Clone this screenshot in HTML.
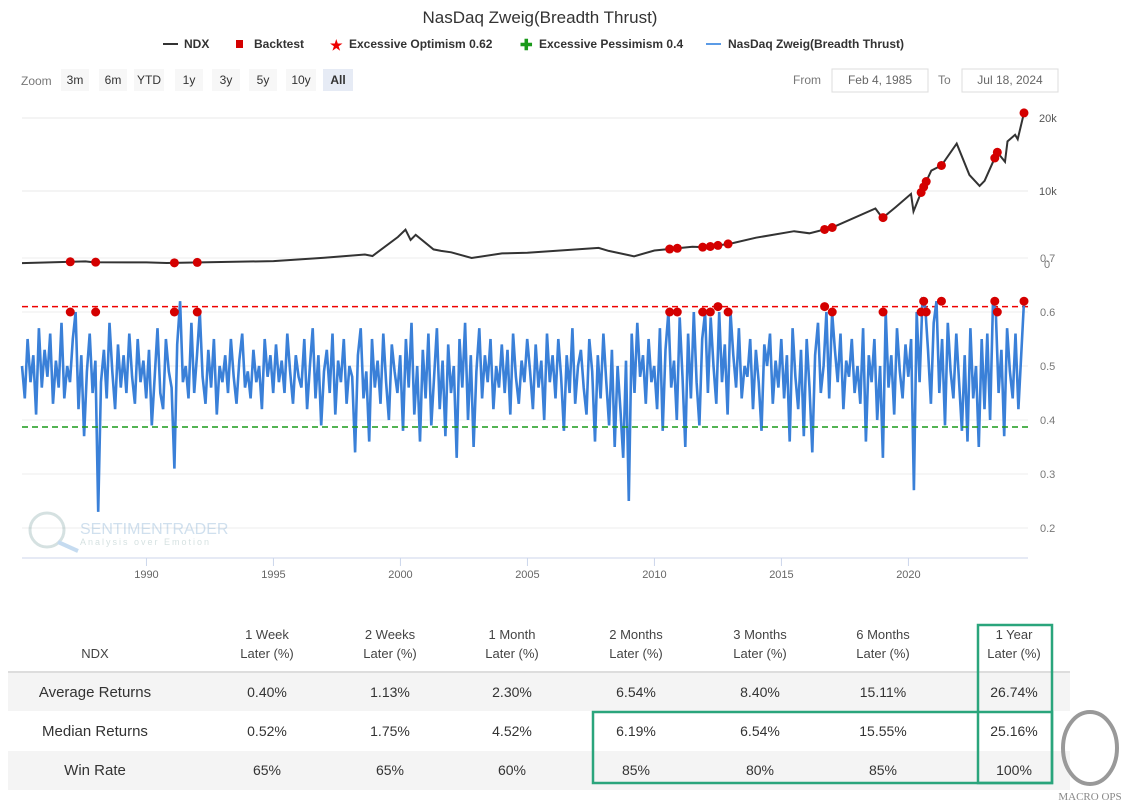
<!DOCTYPE html>
<html><head><meta charset="utf-8">
<style>
body{margin:0;background:#fff;font-family:"Liberation Sans",sans-serif;}
svg{display:block}
</style></head>
<body>
<svg id="c" width="1129" height="810" xmlns="http://www.w3.org/2000/svg">
<text x="540" y="23" text-anchor="middle" font-size="17" fill="#333">NasDaq Zweig(Breadth Thrust)</text>
<g font-size="12" font-weight="bold" fill="#333">
 <g><line x1="163" y1="44" x2="178" y2="44" stroke="#333" stroke-width="2"/><text x="184" y="48">NDX</text></g>
 <g><rect x="236" y="40" width="7" height="8" fill="#d40000"/><text x="254" y="48">Backtest</text></g>
 <g><text x="330" y="50" fill="#e00" font-size="14">★</text><text x="349" y="48">Excessive Optimism 0.62</text></g>
 <g><text x="520" y="50" fill="#1a9a1a" font-size="15">✚</text><text x="539" y="48">Excessive Pessimism 0.4</text></g>
 <g><line x1="706" y1="44" x2="721" y2="44" stroke="#5b9be6" stroke-width="2"/><text x="728" y="48">NasDaq Zweig(Breadth Thrust)</text></g>
</g>
<g font-size="12" fill="#666">
 <text x="21" y="85" fill="#777">Zoom</text>
</g>
<g id="zb"></g>
<g font-size="12" fill="#777">
 <text x="793" y="84">From</text>
 <rect x="832" y="69" width="96" height="23" fill="#fff" stroke="#ddd"/>
 <text x="880" y="84" text-anchor="middle" fill="#666">Feb 4, 1985</text>
 <text x="938" y="84">To</text>
 <rect x="962" y="69" width="96" height="23" fill="#fff" stroke="#ddd"/>
 <text x="1010" y="84" text-anchor="middle" fill="#666">Jul 18, 2024</text>
</g>
<g id="plot"></g>
<g opacity="0.35">
 <circle cx="47" cy="530" r="17" fill="none" stroke="#8aa" stroke-width="3"/>
 <line x1="58" y1="542" x2="78" y2="551" stroke="#5b9bd5" stroke-width="4"/>
 <text x="80" y="534" font-size="16" fill="#7aa7d0">SENTIMENTRADER</text>
 <text x="80" y="545" font-size="9" fill="#8aa" letter-spacing="2">Analysis over Emotion</text>
</g>
<g id="table"></g>
<g>
 <ellipse cx="1090" cy="748" rx="27" ry="36" fill="none" stroke="#999" stroke-width="4"/>
 <text x="1090" y="800" text-anchor="middle" font-family="Liberation Serif,serif" font-size="11" fill="#888">MACRO OPS</text>
</g>
</svg>
<script>
// ---- data ----
const ndxYears=[1985.1,1987.6,1987.9,1990.0,1990.8,1995.0,1997.0,1998.6,1998.9,1999.9,2000.2,2000.4,2000.6,2001.3,2001.6,2002.0,2002.8,2004.0,2005.0,2007.8,2008.2,2009.2,2010.0,2011.5,2012.0,2013.0,2014.0,2015.5,2016.1,2017.0,2018.7,2018.98,2019.5,2020.1,2020.2,2020.5,2020.9,2021.3,2021.9,2022.4,2022.8,2023.0,2023.5,2023.8,2023.9,2024.2,2024.3,2024.55];
const ndxValues=[125,360,250,220,140,400,850,1300,1100,3700,4700,3300,4000,2000,1800,1600,820,1450,1550,2200,1800,1050,1850,2350,2300,2800,3600,4500,4200,5000,7600,6300,7800,9600,7200,9800,12800,13500,16500,12200,10700,11400,15300,14000,16800,17700,17100,20700];
const zweig=[50,44,55,47,52,41,57,46,53,48,56,43,51,46,58,44,50,47,55,60,42,52,37,49,56,45,51,23,47,53,44,58,49,42,54,46,52,45,56,48,43,55,47,51,44,53,39,48,57,45,42,55,49,46,31,54,62,47,50,44,58,45,52,60,48,43,53,46,55,41,50,47,52,45,55,48,43,51,56,46,49,44,53,47,50,42,55,48,52,45,54,47,51,45,56,49,43,52,48,46,55,42,50,57,44,52,39,49,53,45,56,41,51,47,55,43,50,48,34,52,57,44,49,36,55,46,51,43,56,47,40,54,49,45,52,38,55,46,58,41,50,36,53,44,56,39,48,57,42,51,37,54,45,50,33,55,46,58,40,52,35,49,57,44,52,47,55,42,50,46,54,45,53,41,56,48,43,51,47,55,49,42,54,46,51,40,56,47,52,44,55,48,38,52,45,57,43,50,53,46,41,55,49,36,52,44,56,47,39,53,35,50,42,33,51,25,56,45,58,48,52,43,55,47,50,42,57,38,53,60,46,51,40,59,48,35,56,44,60,47,39,55,60,45,59,50,43,60,47,54,41,60,52,46,57,44,50,48,55,42,53,47,38,54,50,56,43,51,46,55,44,52,36,57,48,42,53,37,55,46,34,52,58,45,50,60,44,60,53,47,56,42,51,48,55,45,50,43,57,36,52,47,55,40,50,33,60,46,52,41,57,49,44,54,48,55,27,60,47,62,61,53,43,58,62,45,55,39,58,49,44,56,47,38,52,36,57,44,50,35,55,42,56,40,62,60,45,53,37,57,49,44,56,42,52,62];
const backtestYears=[1987.0,1988.0,1991.1,1992.0,2010.6,2010.9,2011.9,2012.2,2012.5,2012.9,2016.7,2017.0,2019.0,2020.5,2020.6,2020.7,2021.3,2023.4,2023.5,2024.55];
const backtestZweig=[0.60,0.60,0.60,0.60,0.60,0.60,0.60,0.60,0.61,0.60,0.61,0.60,0.60,0.60,0.62,0.60,0.62,0.62,0.60,0.62];
const xTicks=[1990,1995,2000,2005,2010,2015,2020];
const ndxTicks=[10000,20000];const ndxTickLabels=["10k","20k"];
const zTicks=[0.2,0.3,0.4,0.5,0.6,0.7];
const optimism=0.61, pessimism=0.387;
const zoomLabels=["3m","6m","YTD","1y","3y","5y","10y","All"];
const colHeaders=[["NDX",""],["1 Week","Later (%)"],["2 Weeks","Later (%)"],["1 Month","Later (%)"],["2 Months","Later (%)"],["3 Months","Later (%)"],["6 Months","Later (%)"],["1 Year","Later (%)"]];
const rowNames=["Average Returns","Median Returns","Win Rate"];
const rowValues=[["0.40%","1.13%","2.30%","6.54%","8.40%","15.11%","26.74%"],["0.52%","1.75%","4.52%","6.19%","6.54%","15.55%","25.16%"],["65%","65%","60%","85%","80%","85%","100%"]];
// ---- scales ----
const NS="http://www.w3.org/2000/svg";
const X=t=>22+(t-1985.1)*(1024-22)/(2024.55-1985.1);
const YN=v=>264-v*0.0073;
const YZ=v=>312-(v-0.6)*540;
function mk(p,tag,at){const e=document.createElementNS(NS,tag);for(const k in at)e.setAttribute(k,at[k]);p.appendChild(e);return e;}
function ndxAt(t){for(let i=1;i<ndxYears.length;i++){if(t<=ndxYears[i]){const f=(t-ndxYears[i-1])/(ndxYears[i]-ndxYears[i-1]);return ndxValues[i-1]+f*(ndxValues[i]-ndxValues[i-1]);}}return ndxValues[ndxValues.length-1];}
const plot=document.getElementById('plot');
const zb=document.getElementById('zb');
zoomLabels.forEach((l,i)=>{const x=[61,99,134,175,212,249,286,323][i];const w=l.length>2?30:28;
 const r=mk(zb,'rect',{x:x,y:69,width:w,height:22,fill:l==="All"?"#e6ebf5":"#f7f7f7"});
 
 
 const t=mk(zb,'text',{x:x+w/2,y:84,'text-anchor':'middle','font-size':12,fill:'#333','font-weight':l==="All"?"bold":"normal"});t.textContent=l;});
[10000,20000].forEach(v=>mk(plot,'line',{x1:22,x2:1028,y1:YN(v),y2:YN(v),stroke:'#e8e8e8'}));
zTicks.forEach(v=>mk(plot,'line',{x1:22,x2:1028,y1:YZ(v),y2:YZ(v),stroke:'#ececec'}));
mk(plot,'line',{x1:22,x2:1028,y1:558,y2:558,stroke:'#ccd6eb'});
xTicks.forEach(y=>{mk(plot,'line',{x1:X(y),x2:X(y),y1:558,y2:566,stroke:'#ccd6eb'});
 const t=mk(plot,'text',{x:X(y),y:578,'text-anchor':'middle','font-size':11,fill:'#666'});t.textContent=y;
 
 });
ndxTicks.forEach((v,i)=>{const t=mk(plot,'text',{x:1039,y:YN(v)+4,'font-size':11,fill:'#555'});t.textContent=ndxTickLabels[i];});
zTicks.forEach(v=>{const t=mk(plot,'text',{x:1040,y:YZ(v)+4,'font-size':11,fill:'#777'});t.textContent=v.toFixed(1);});
{const t=mk(plot,'text',{x:1044,y:268,'font-size':11,fill:'#777'});t.textContent="0";}
const ol=mk(plot,'line',{x1:22,x2:1028,y1:YZ(optimism),y2:YZ(optimism),stroke:'#e00','stroke-width':1.5,'stroke-dasharray':'6,4'});


const n=zweig.length;
let d='';zweig.forEach((v,i)=>{const t=1985.1+i*(2024.55-1985.1)/(n-1);d+=(i?'L':'M')+X(t).toFixed(1)+','+YZ(v/100).toFixed(1);});
const zp=mk(plot,'path',{d:d,fill:'none',stroke:'#3a80d8','stroke-width':2.6,'stroke-linejoin':'miter'});


const pl=mk(plot,'line',{x1:22,x2:1028,y1:YZ(pessimism),y2:YZ(pessimism),stroke:'#1a9a1a','stroke-width':1.5,'stroke-dasharray':'6,4'});


let dn='';ndxYears.forEach((t,i)=>{dn+=(i?'L':'M')+X(t).toFixed(1)+','+YN(ndxValues[i]).toFixed(1);});
const np=mk(plot,'path',{d:dn,fill:'none',stroke:'#333','stroke-width':2});


backtestYears.forEach((t,i)=>{
 const a=mk(plot,'circle',{cx:X(t),cy:YN(ndxAt(t)),r:4.5,fill:'#d40000'});
 
 
 const b=mk(plot,'circle',{cx:X(t),cy:YZ(backtestZweig[i]),r:4.5,fill:'#d40000'});
 
 });
const tb=document.getElementById('table');
mk(tb,'rect',{x:8,y:673,width:1062,height:38,fill:'#f4f4f4'});
mk(tb,'rect',{x:8,y:751,width:1062,height:39,fill:'#f4f4f4'});
mk(tb,'line',{x1:8,x2:1070,y1:672,y2:672,stroke:'#ddd','stroke-width':2});
const cx=[95,267,390,512,636,760,883,1014];
colHeaders.forEach((h,i)=>{const g=i?[639,658]:[658,658];
 const t1=mk(tb,'text',{x:cx[i],y:g[0],'text-anchor':'middle','font-size':13,fill:'#444'});t1.textContent=h[0];
 if(h[1]){const t2=mk(tb,'text',{x:cx[i],y:g[1],'text-anchor':'middle','font-size':13,fill:'#444'});t2.textContent=h[1];}});
rowNames.forEach((r,j)=>{const y=697+j*39;
 const t=mk(tb,'text',{x:cx[0],y:y,'text-anchor':'middle','font-size':15,fill:'#333'});t.textContent=r;
 rowValues[j].forEach((v,i)=>{const u=mk(tb,'text',{x:cx[i+1],y:y,'text-anchor':'middle','font-size':14,fill:'#333'});u.textContent=v;});});
mk(tb,'rect',{x:978,y:625,width:74,height:158,fill:'none',stroke:'#2aa57c','stroke-width':2.5});
mk(tb,'rect',{x:593,y:712,width:459,height:71,fill:'none',stroke:'#2aa57c','stroke-width':2.5});
</script>
</body></html>
